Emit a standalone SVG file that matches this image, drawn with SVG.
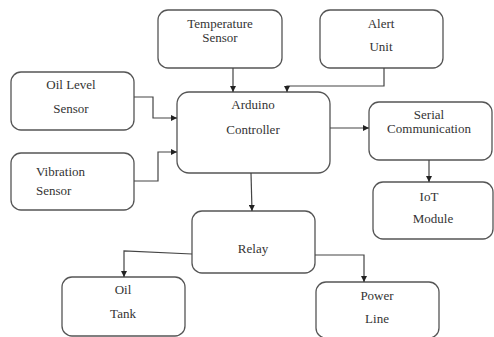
<svg xmlns="http://www.w3.org/2000/svg" width="494" height="337" viewBox="0 0 494 337">
<defs>
<style>
.box{fill:#fff;stroke:#555;stroke-width:1.3}
.t{font-family:"Liberation Serif","DejaVu Serif",serif;font-size:13px;fill:#333;text-anchor:middle}
.c{fill:none;stroke:#444;stroke-width:1.2}
</style>
<marker id="ah" viewBox="0 0 8 8" refX="8" refY="4" markerWidth="6" markerHeight="6" orient="auto" markerUnits="userSpaceOnUse">
<path d="M0,0 L8,4 L0,8 Z" fill="#222"/>
</marker>
</defs>
<rect width="494" height="337" fill="#fff"/>
<g id="temp"><rect class="box" x="158" y="10" width="124" height="58" rx="10"/><text class="t" x="220" y="28">Temperature</text><text class="t" x="220" y="42">Sensor</text></g>
<g id="alert"><rect class="box" x="320" y="10" width="123" height="58" rx="10"/><text class="t" x="381" y="28">Alert</text><text class="t" x="381" y="51">Unit</text></g>
<g id="oillevel"><rect class="box" x="11" y="72" width="123" height="58" rx="10"/><text class="t" x="71" y="89">Oil Level</text><text class="t" x="71" y="113">Sensor</text></g>
<g id="vibration"><rect class="box" x="11" y="153" width="123" height="57" rx="10"/><text class="t" x="36" y="176" style="text-anchor:start">Vibration</text><text class="t" x="36" y="195" style="text-anchor:start">Sensor</text></g>
<g id="arduino"><rect class="box" x="177" y="92" width="153" height="81" rx="12"/><text class="t" x="253" y="109">Arduino</text><text class="t" x="253" y="134">Controller</text></g>
<g id="serial"><rect class="box" x="369" y="102" width="123" height="58" rx="10"/><text class="t" x="429" y="119">Serial</text><text class="t" x="429" y="133">Communication</text></g>
<g id="iot"><rect class="box" x="373" y="182" width="120" height="57" rx="10"/><text class="t" x="429" y="201">IoT</text><text class="t" x="433" y="223">Module</text></g>
<g id="relay"><rect class="box" x="192" y="211" width="123" height="62" rx="10"/><text class="t" x="253" y="253">Relay</text></g>
<g id="oiltank"><rect class="box" x="62" y="277" width="123" height="59" rx="10"/><text class="t" x="123" y="294">Oil</text><text class="t" x="123" y="318">Tank</text></g>
<g id="powerline"><rect class="box" x="316" y="282" width="123" height="56" rx="10"/><text class="t" x="377" y="300">Power</text><text class="t" x="377" y="323">Line</text></g>
<g id="connectors">
<path class="c" d="M233,68 V92" marker-end="url(#ah)"/>
<path class="c" d="M384,68 V86 H287 V92" marker-end="url(#ah)"/>
<path class="c" d="M134,97 H153 V118 H177" marker-end="url(#ah)"/>
<path class="c" d="M134,181 H158 V152 H177" marker-end="url(#ah)"/>
<path class="c" d="M330,128 H369" marker-end="url(#ah)"/>
<path class="c" d="M429,160 V182" marker-end="url(#ah)"/>
<path class="c" d="M251,173 L252,211" marker-end="url(#ah)"/>
<path class="c" d="M192,254 L124,251 V277" marker-end="url(#ah)"/>
<path class="c" d="M315,255 H364 V282" marker-end="url(#ah)"/>
</g>
</svg>
